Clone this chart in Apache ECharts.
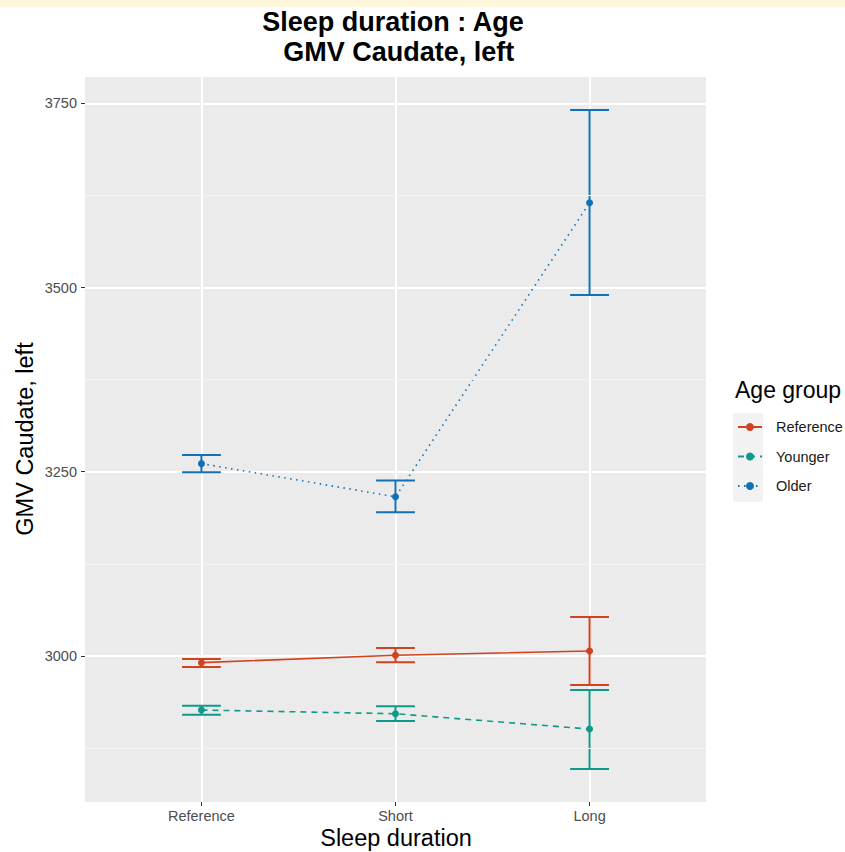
<!DOCTYPE html>
<html>
<head>
<meta charset="utf-8">
<script src="https://cdn.jsdelivr.net/npm/echarts@6/dist/echarts.min.js"></script>
<style>
  html, body { margin: 0; padding: 0; background: #ffffff; }
  #chart { width: 845px; height: 852px; }
</style>
</head>
<body>
<div id="chart"></div>
<script>
// ---- data ----
const categories = ['Reference', 'Short', 'Long'];
const groups = ['Reference', 'Younger', 'Older'];

const refMean = [2990.9, 3001.0, 3006.8];
const refLow  = [2985.0, 2991.4, 2960.6];
const refHigh = [2996.0, 3010.9, 3053.0];

const youngMean = [2926.6, 2921.6, 2900.8];
const youngLow  = [2920.2, 2911.7, 2846.5];
const youngHigh = [2932.5, 2931.6, 2953.8];

const oldMean = [3261.0, 3216.0, 3615.0];
const oldLow  = [3249.4, 3195.0, 3490.0];
const oldHigh = [3272.8, 3238.0, 3741.0];

const yTicks = [3000, 3250, 3500, 3750];
const yMinorTicks = [2875, 3125, 3375, 3625];

// ---- styling ----
const colors = ['#D0431F', '#10998A', '#1271B5'];
const lineTypes = ['solid', [6, 5], [1.5, 4.5]];
const FONT = '"Liberation Sans", Arial, Helvetica, sans-serif';
const capHalf = 0.1;

const means = [refMean, youngMean, oldMean];
const lows = [refLow, youngLow, oldLow];
const highs = [refHigh, youngHigh, oldHigh];

const chart = echarts.init(document.getElementById('chart'), null, { renderer: 'svg' });

const series = [];

// minor gridlines
series.push({
  type: 'line',
  data: [],
  silent: true,
  z: 1,
  markLine: {
    silent: true,
    symbol: 'none',
    label: { show: false },
    lineStyle: { color: '#F5F5F5', width: 1, type: 'solid' },
    emphasis: { disabled: true },
    data: yMinorTicks.map(v => ({ yAxis: v }))
  }
});

groups.forEach((g, gi) => {
  // error bars
  series.push({
    type: 'custom',
    name: g + '_err',
    z: 3,
    silent: true,
    data: categories.map((c, i) => [i + 1, lows[gi][i], highs[gi][i]]),
    renderItem: function (params, api) {
      const x = api.value(0), lo = api.value(1), hi = api.value(2);
      const pLo = api.coord([x, lo]);
      const pHi = api.coord([x, hi]);
      const xl = api.coord([x - capHalf, lo])[0];
      const xr = api.coord([x + capHalf, lo])[0];
      const st = { stroke: colors[gi], lineWidth: 2, fill: null };
      return {
        type: 'group',
        children: [
          { type: 'line', shape: { x1: pLo[0], y1: pLo[1], x2: pHi[0], y2: pHi[1] }, style: st },
          { type: 'line', shape: { x1: xl, y1: pLo[1], x2: xr, y2: pLo[1] }, style: st },
          { type: 'line', shape: { x1: xl, y1: pHi[1], x2: xr, y2: pHi[1] }, style: st }
        ]
      };
    }
  });
  // line + points
  series.push({
    type: 'line',
    name: g,
    z: 4,
    data: categories.map((c, i) => [i + 1, means[gi][i]]),
    symbol: 'circle',
    symbolSize: 7,
    showSymbol: true,
    color: colors[gi],
    itemStyle: { color: colors[gi] },
    lineStyle: { color: colors[gi], width: 1.6, type: lineTypes[gi] },
    emphasis: { disabled: true },
    animation: false
  });
});

const option = {
  animation: false,
  backgroundColor: '#ffffff',
  grid: {
    left: 85, right: 139, top: 77, bottom: 50,
    show: true, backgroundColor: '#EBEBEB', borderWidth: 0
  },
  xAxis: {
    type: 'value',
    min: 0.4, max: 3.6,
    axisLine: { show: false },
    axisTick: { show: true, customValues: [1, 2, 3], length: 4, lineStyle: { color: '#333333', width: 1 } },
    axisLabel: {
      customValues: [1, 2, 3],
      formatter: v => categories[Math.round(v) - 1] || '',
      color: '#4D4D4D', fontSize: 14.5, fontFamily: FONT, margin: 6
    },
    splitLine: { show: true, lineStyle: { color: '#FFFFFF', width: 2 } }
  },
  yAxis: {
    type: 'value',
    min: 2801.8, max: 3785.7,
    axisLine: { show: false },
    axisTick: { show: true, customValues: yTicks, length: 4, lineStyle: { color: '#333333', width: 1 } },
    axisLabel: {
      customValues: yTicks,
      formatter: v => String(v),
      color: '#4D4D4D', fontSize: 14.5, fontFamily: FONT, margin: 8
    },
    splitLine: { show: true, lineStyle: { color: '#FFFFFF', width: 2 } }
  },
  legend: {
    data: groups,
    orient: 'vertical',
    left: 737, top: 418,
    padding: 0,
    itemWidth: 24, itemHeight: 10,
    itemGap: 11.5,
    selectedMode: false,
    textStyle: { fontSize: 14.5, fontFamily: FONT, color: '#1a1a1a', lineHeight: 18, padding: [0, 0, 0, 9] }
  },
  graphic: [
    { type: 'rect', left: 0, top: 0, shape: { width: 845, height: 7 }, style: { fill: '#FEF7DB' }, silent: true },
    { type: 'rect', shape: { x: 733, y: 413, width: 30, height: 89 }, style: { fill: '#F2F2F2' }, z: -1, silent: true },
    { type: 'text', x: 393, y: 22, style: { text: 'Sleep duration : Age', textAlign: 'center', textVerticalAlign: 'middle', font: 'bold 27px ' + FONT, fill: '#000' } },
    { type: 'text', x: 395, y: 52, style: { text: ' GMV Caudate, left', textAlign: 'center', textVerticalAlign: 'middle', font: 'bold 27px ' + FONT, fill: '#000' } },
    { type: 'text', x: 396, y: 838, style: { text: 'Sleep duration', textAlign: 'center', textVerticalAlign: 'middle', font: '23.5px ' + FONT, fill: '#000' } },
    { type: 'text', x: 25, y: 439, rotation: Math.PI / 2, style: { text: 'GMV Caudate, left', textAlign: 'center', textVerticalAlign: 'middle', font: '23.5px ' + FONT, fill: '#000' } },
    { type: 'text', x: 735, y: 390, style: { text: 'Age group', textAlign: 'left', textVerticalAlign: 'middle', font: '23px ' + FONT, fill: '#000' } }
  ],
  series: series
};

chart.setOption(option);
</script>
</body>
</html>
